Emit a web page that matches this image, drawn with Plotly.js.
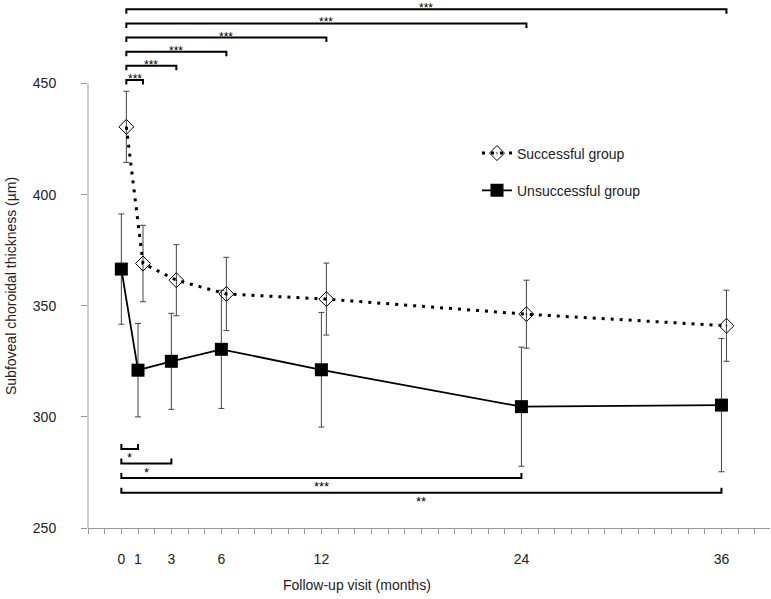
<!DOCTYPE html>
<html><head><meta charset="utf-8">
<script src="https://cdn.plot.ly/plotly-3.0.1.min.js"></script>
<style>html,body{margin:0;padding:0;background:#fff}</style>
</head><body>
<div id="chart" style="width:771px;height:599px"></div>
<script>
// ---- data ----
const months = [0, 1, 3, 6, 12, 24, 36];
const tickLabels = ['0', '1', '3', '6', '12', '24', '36'];
const successfulMean = [430.5, 369, 361.5, 355.3, 353, 346.2, 341];
const successfulSD = [16, 17.2, 16, 16.5, 16.2, 15.3, 16];
const unsuccessfulMean = [366.5, 321, 325, 330.4, 321.2, 304.6, 305.3];
const unsuccessfulSD = [24.8, 21, 21.6, 26.6, 25.8, 26.8, 30];
const seriesNames = ['Successful group', 'Unsuccessful group'];
const yTicks = [250, 300, 350, 400, 450];
const topCompareTo = [1, 3, 6, 12, 24, 36];
const topCompareLabel = ['***', '***', '***', '***', '***', '***'];
const bottomCompareTo = [1, 3, 24, 36];
const bottomCompareLabel = ['*', '*', '***', '**'];

// ---- layout geometry ----
const W = 771, H = 599;
const M = {l: 88, r: 1, t: 0, b: 71};
const plotH = H - M.t - M.b, plotW = W - M.l - M.r;
const FONT = 'Arial, "Liberation Sans", sans-serif';
const py = p => 1 - (p - M.t) / plotH;        // pixel row -> paper y
const px = p => (p - M.l) / plotW;             // pixel col -> paper x
const groupShift = 0.3;                        // successful group drawn slightly right

const traces = [
  {
    x: months, y: successfulMean, name: seriesNames[0], xaxis: 'x2', yaxis: 'y',
    mode: 'lines+markers', legendgroup: 'a',
    line: {color: '#000', width: 3, dash: '3px,6px'},
    marker: {symbol: 'diamond-open-dot', size: 11.5, color: '#000', line: {width: 1, color: '#000'}},
    error_y: {type: 'data', array: successfulSD, visible: true, color: '#444', thickness: 1, width: 3}
  },
  {
    x: months, y: unsuccessfulMean, name: seriesNames[1], xaxis: 'x', yaxis: 'y',
    mode: 'lines+markers', legendgroup: 'b',
    line: {color: '#000', width: 1.8},
    marker: {symbol: 'square', size: 13, color: '#000'},
    error_y: {type: 'data', array: unsuccessfulSD, visible: true, color: '#444', thickness: 1, width: 3}
  }
];

const shapes = [
  {type: 'line', xref: 'paper', yref: 'y', x0: 0, x1: 0, y0: yTicks[0], y1: yTicks[yTicks.length - 1],
   line: {color: '#999', width: 1}}
];
const annotations = [];

topCompareTo.forEach((to, i) => {
  const lv = 80 - i * 14.15;
  shapes.push({type: 'path', xref: 'x2', yref: 'paper',
    path: `M ${months[0]} ${py(lv + 4.5)} L ${months[0]} ${py(lv)} L ${to} ${py(lv)} L ${to} ${py(lv + 4.5)}`,
    line: {color: '#000', width: 2}});
  annotations.push({xref: 'x2', yref: 'paper', x: (months[0] + to) / 2, y: py(lv - 1),
    text: topCompareLabel[i], showarrow: false, xanchor: 'center', yanchor: 'middle', borderpad: 0,
    font: {family: FONT, size: 12, color: '#000'}});
});
bottomCompareTo.forEach((to, i) => {
  const lv = 449 + i * 14.55;
  shapes.push({type: 'path', xref: 'x', yref: 'paper',
    path: `M ${months[0]} ${py(lv - 5)} L ${months[0]} ${py(lv)} L ${to} ${py(lv)} L ${to} ${py(lv - 5)}`,
    line: {color: '#000', width: 2}});
  annotations.push({xref: 'x', yref: 'paper', x: (months[0] + to) / 2, y: py(lv + 8.5),
    text: bottomCompareLabel[i], showarrow: false, xanchor: 'center', yanchor: 'middle',
    font: {family: FONT, size: 13, color: '#000'}});
});

annotations.push({xref: 'paper', yref: 'paper', x: px(11), y: py(286), textangle: -90,
  text: 'Subfoveal choroidal thickness (µm)', showarrow: false, xanchor: 'center', yanchor: 'middle',
  font: {family: FONT, size: 14, color: '#222'}});
annotations.push({xref: 'paper', yref: 'paper', x: px(357), y: py(585),
  text: 'Follow-up visit (months)', showarrow: false, xanchor: 'center', yanchor: 'middle',
  font: {family: FONT, size: 14, color: '#222'}});

const xRange = [-2, -2 + plotW / 16.67];
const layout = {
  width: W, height: H, margin: M,
  paper_bgcolor: '#fff', plot_bgcolor: '#fff',
  font: {family: FONT, size: 14, color: '#222'},
  showlegend: true,
  legend: {x: px(477), y: py(137.5), xanchor: 'left', yanchor: 'top', bgcolor: 'rgba(0,0,0,0)',
    traceorder: 'grouped', tracegroupgap: 16, font: {family: FONT, size: 14, color: '#222'}},
  xaxis: {range: xRange, showgrid: false, zeroline: false, showline: true, linecolor: '#999', linewidth: 1,
    tickmode: 'array', tickvals: months, ticktext: tickLabels, ticks: 'outside', ticklen: 5, tickcolor: '#999',
    ticklabelstandoff: 13, tickfont: {family: FONT, size: 14, color: '#222'},
    minor: {dtick: 1, tick0: 0, ticks: 'outside', ticklen: 5, tickcolor: '#999', showgrid: false}},
  xaxis2: {range: [xRange[0] - groupShift, xRange[1] - groupShift], overlaying: 'x', anchor: 'y', visible: false},
  yaxis: {range: [250, 250 + 200 * plotH / (528 - 83.5)], showgrid: false, zeroline: false,
    showline: false, tickmode: 'array', tickvals: yTicks, ticks: 'outside', ticklen: 6, tickcolor: '#999',
    ticklabelstandoff: 22, tickfont: {family: FONT, size: 14, color: '#222'}},
  shapes: shapes, annotations: annotations
};

Plotly.newPlot('chart', traces, layout, {displayModeBar: false, staticPlot: true});
</script>
</body></html>
